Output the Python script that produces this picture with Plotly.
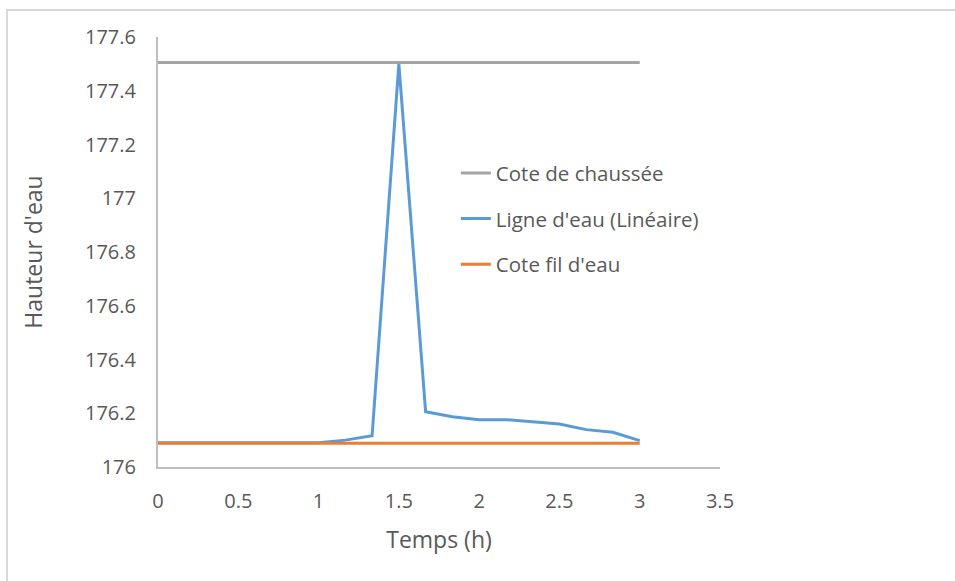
import plotly.graph_objects as go

# Data
temps = [0, 0.1667, 0.3333, 0.5, 0.6667, 0.8333, 1.0, 1.1667, 1.3333, 1.5,
         1.6667, 1.8333, 2.0, 2.1667, 2.3333, 2.5, 2.6667, 2.8333, 3.0]
ligne_eau = [176.09, 176.09, 176.09, 176.09, 176.09, 176.09, 176.09, 176.10, 176.116, 177.5,
             176.206, 176.187, 176.176, 176.176, 176.167, 176.16, 176.139, 176.129, 176.098]
temps_ref = [0, 3]
cote_chaussee = [177.505, 177.505]
cote_fil_eau = [176.088, 176.088]

font_family = "'Open Sans', Lato, sans-serif"
txt_color = "#595959"

fig = go.Figure()
fig.add_trace(go.Scatter(x=temps_ref, y=cote_chaussee, mode="lines",
                         name="Cote de chaussée", legendgroup="a",
                         line=dict(color="#A5A5A5", width=3)))
fig.add_trace(go.Scatter(x=temps, y=ligne_eau, mode="lines",
                         name="Ligne d'eau (Linéaire)", legendgroup="b",
                         line=dict(color="#5B9BD5", width=3)))
fig.add_trace(go.Scatter(x=temps_ref, y=cote_fil_eau, mode="lines",
                         name="Cote fil d'eau", legendgroup="c",
                         line=dict(color="#ED7D31", width=3)))

fig.update_layout(
    width=955, height=581,
    margin=dict(l=158, r=235, t=37, b=114),
    paper_bgcolor="white", plot_bgcolor="white",
    font=dict(family=font_family, color=txt_color, size=20),
    showlegend=True,
    legend=dict(x=0.53, y=0.73, xanchor="left", yanchor="top",
                bgcolor="rgba(0,0,0,0)", tracegroupgap=16,
                font=dict(size=20.5, color=txt_color)),
    xaxis=dict(range=[0, 3.5], dtick=0.5, tick0=0, showgrid=False, zeroline=False,
               showline=True, linecolor="#BFBFBF", linewidth=2, ticks="",
               ticklabelstandoff=15,
               tickfont=dict(size=20, color=txt_color),
               title=dict(text="Temps (h)", font=dict(size=23, color=txt_color), standoff=19)),
    yaxis=dict(range=[176, 177.6], dtick=0.2, tick0=176, showgrid=False, zeroline=False,
               showline=True, linecolor="#BFBFBF", linewidth=2, ticks="",
               ticklabelstandoff=16,
               tickfont=dict(size=20, color=txt_color),
               title=dict(text="Hauteur d'eau", font=dict(size=23, color=txt_color), standoff=36)),
    shapes=[dict(type="rect", xref="paper", yref="paper",
                 x0=(7 - 158) / 562, x1=(980 - 158) / 562,
                 y0=(467.3 - 600) / 430.3, y1=(467.3 - 10) / 430.3,
                 line=dict(color="#D9D9D9", width=2), fillcolor="rgba(0,0,0,0)", layer="below")],
)

fig.write_html("out.html")
